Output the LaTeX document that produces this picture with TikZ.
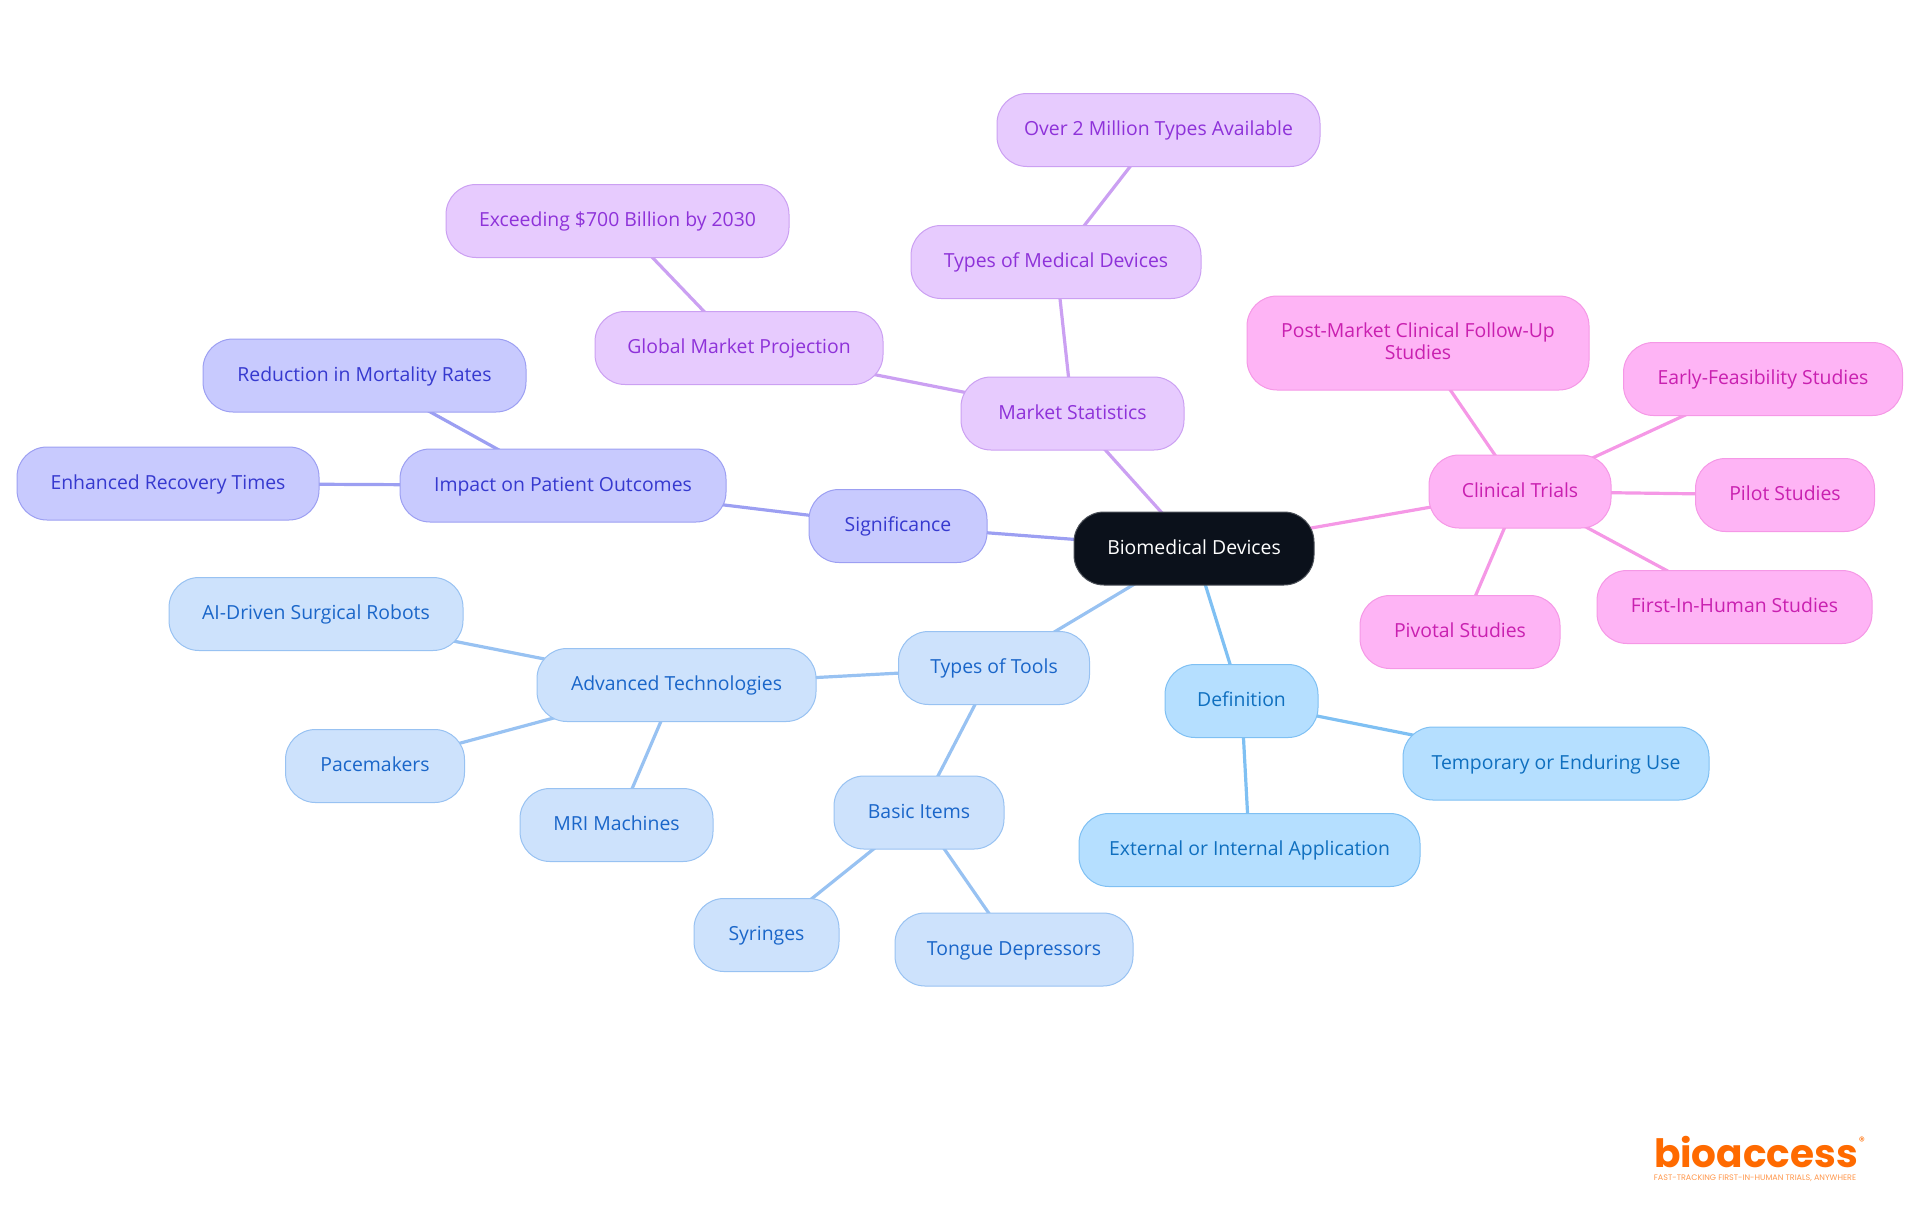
\documentclass[tikz,border=0pt]{standalone}
\usepackage{fontspec}
\setmainfont{Open Sans}
\newfontfamily\logofont{Poppins}
\usetikzlibrary{backgrounds}

\tikzset{
    topic/.style={draw, rounded corners=15pt, minimum height=36.5pt, inner sep=0pt, align=center, line width=0.5pt, text height=7.8pt, text depth=2pt, font=\fontsize{9.7}{11}\selectfont},
    rootnode/.style={topic, fill=rootfill, draw=rootdraw, text=white},
    defnode/.style={topic, fill=deffill, draw=defline, text=deftext},
    toolnode/.style={topic, fill=toolfill, draw=toolline, text=tooltext},
    signode/.style={topic, fill=sigfill, draw=sigline, text=sigtext},
    marketnode/.style={topic, fill=marketfill, draw=marketline, text=markettext},
    trialnode/.style={topic, fill=trialfill, draw=trialline, text=trialtext},
    link/.style={line width=1.6pt}
}
\definecolor{rootfill}{HTML}{0B111B}
\definecolor{rootdraw}{HTML}{4A4F57}
\definecolor{deffill}{HTML}{B5DFFF}
\definecolor{defline}{HTML}{7FC0F3}
\definecolor{deftext}{HTML}{0F6FBF}
\definecolor{toolfill}{HTML}{CDE2FC}
\definecolor{toolline}{HTML}{98C2F2}
\definecolor{tooltext}{HTML}{1A66C9}
\definecolor{sigfill}{HTML}{C8CAFE}
\definecolor{sigline}{HTML}{9C9FF2}
\definecolor{sigtext}{HTML}{3639CF}
\definecolor{marketfill}{HTML}{E7CBFE}
\definecolor{marketline}{HTML}{CBA0F2}
\definecolor{markettext}{HTML}{8E32D9}
\definecolor{trialfill}{HTML}{FEB4F5}
\definecolor{trialline}{HTML}{F598E6}
\definecolor{trialtext}{HTML}{C920B0}
\definecolor{logoorange}{HTML}{FF6A00}

\begin{document}
\begin{tikzpicture}[x=0.5pt,y=-0.5pt]
    \useasboundingbox (0,0) rectangle (1920,1215);

    \node [rootnode, minimum width=120pt] (root) at (1194,548.5) {Biomedical Devices};

    \node [defnode, minimum width=76.5pt] (def) at (1241.5,701) {Definition};
    \node [defnode, minimum width=153pt] (temp) at (1556,763.5) {Temporary or Enduring Use};
    \node [defnode, minimum width=170.5pt] (ext) at (1249.5,850) {External or Internal Application};

    \node [toolnode, minimum width=95.5pt] (tools) at (994,668) {Types of Tools};
    \node [toolnode, minimum width=139.5pt] (adv) at (676.5,685) {Advanced Technologies};
    \node [toolnode, minimum width=147pt] (robots) at (316,614) {AI-Driven Surgical Robots};
    \node [toolnode, minimum width=89.5pt] (pace) at (375,766) {Pacemakers};
    \node [toolnode, minimum width=96.5pt] (mri) at (616.5,825) {MRI Machines};
    \node [toolnode, minimum width=85pt] (basic) at (919,812.5) {Basic Items};
    \node [toolnode, minimum width=72.5pt] (syr) at (766.5,935) {Syringes};
    \node [toolnode, minimum width=119pt] (tongue) at (1014,949.5) {Tongue Depressors};

    \node [signode, minimum width=89pt] (sig) at (898,526) {Significance};
    \node [signode, minimum width=163pt] (impact) at (563,485.5) {Impact on Patient Outcomes};
    \node [signode, minimum width=161.5pt] (mort) at (364.5,375.5) {Reduction in Mortality Rates};
    \node [signode, minimum width=151pt] (recov) at (168,483.5) {Enhanced Recovery Times};

    \node [marketnode, minimum width=111.5pt] (market) at (1072.5,413.5) {Market Statistics};
    \node [marketnode, minimum width=144pt] (glob) at (739,348) {Global Market Projection};
    \node [marketnode, minimum width=171.5pt] (exceed) at (617.5,221) {Exceeding \$700 Billion by 2030};
    \node [marketnode, minimum width=145pt] (kinds) at (1056,262) {Types of Medical Devices};
    \node [marketnode, minimum width=161.5pt] (over) at (1158.5,130) {Over 2 Million Types Available};

    \node [trialnode, minimum width=91pt] (trials) at (1520,491.5) {Clinical Trials};
    \node [trialnode, minimum width=171pt, minimum height=47pt, text height=18.4pt] (post) at (1418,343) {Post-Market Clinical Follow-Up\\Studies};
    \node [trialnode, minimum width=139.5pt] (early) at (1763,379) {Early-Feasibility Studies};
    \node [trialnode, minimum width=89.5pt] (pilot) at (1785,495) {Pilot Studies};
    \node [trialnode, minimum width=137.5pt] (first) at (1734.5,607) {First-In-Human Studies};
    \node [trialnode, minimum width=100pt] (pivot) at (1460,632) {Pivotal Studies};

    \begin{scope}[on background layer]
    \draw [link, defline]
        (root.center) edge (def.center)
        (def.center) edge (temp.center)
        (def.center) edge (ext.center);
    \draw [link, toolline]
        (root.center) edge (tools.center)
        (tools.center) edge (adv.center)
        (adv.center) edge (robots.center)
        (adv.center) edge (pace.center)
        (adv.center) edge (mri.center)
        (tools.center) edge (basic.center)
        (basic.center) edge (syr.center)
        (basic.center) edge (tongue.center);
    \draw [link, sigline]
        (root.center) edge (sig.center)
        (sig.center) edge (impact.center)
        (impact.center) edge (mort.center)
        (impact.center) edge (recov.center);
    \draw [link, marketline]
        (root.center) edge (market.center)
        (market.center) edge (glob.center)
        (glob.center) edge (exceed.center)
        (market.center) edge (kinds.center)
        (kinds.center) edge (over.center);
    \draw [link, trialline]
        (root.center) edge (trials.center)
        (trials.center) edge (post.center)
        (trials.center) edge (early.center)
        (trials.center) edge (pilot.center)
        (trials.center) edge (first.center)
        (trials.center) edge (pivot.center);
    \end{scope}

    % logo
    \node [text=logoorange, inner sep=0pt, font=\logofont\bfseries\fontsize{19.5}{20}\selectfont] (logo) at (1756,1152) {bioaccess};
    \node [text=logoorange, inner sep=0pt, font=\logofont\fontsize{6}{6}\selectfont] (reg) at (1862,1141) {®};
    \node [text=logoorange!70, inner sep=0pt, font=\logofont\fontsize{4}{4}\selectfont] (tag) at (1755,1178) {FAST-TRACKING FIRST-IN-HUMAN TRIALS, ANYWHERE};
\end{tikzpicture}
\end{document}
